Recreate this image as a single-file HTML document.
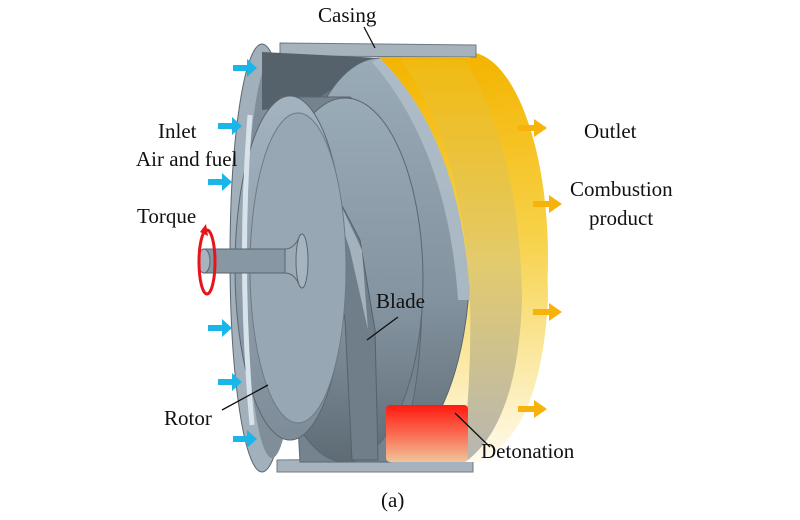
<!DOCTYPE html>
<html><head><meta charset="utf-8"><style>
body{margin:0;background:#fff;}
svg{display:block}
text{font-family:"Liberation Serif",serif;font-size:21px;fill:#111}
</style></head><body>
<svg width="800" height="520" viewBox="0 0 800 520">
<defs>
<linearGradient id="yel" x1="0" y1="0" x2="0" y2="1">
<stop offset="0" stop-color="#f4b400"/><stop offset="0.45" stop-color="#f7d24a"/><stop offset="1" stop-color="#fffbee"/>
</linearGradient>
<linearGradient id="gry" x1="0" y1="0" x2="0" y2="1">
<stop offset="0" stop-color="#9aabb8"/><stop offset="0.6" stop-color="#82929e"/><stop offset="1" stop-color="#5e6b75"/>
</linearGradient>
<linearGradient id="inner" x1="0" y1="0" x2="0" y2="1">
<stop offset="0" stop-color="#a3b3bf"/><stop offset="1" stop-color="#7d8c98"/>
</linearGradient>
<linearGradient id="red" x1="0" y1="0" x2="0" y2="1">
<stop offset="0" stop-color="#ff1a10"/><stop offset="0.5" stop-color="#fb6a50"/><stop offset="1" stop-color="#efc49a"/>
</linearGradient>
<linearGradient id="olive" x1="0" y1="0" x2="0" y2="1">
<stop offset="0" stop-color="#eec020"/><stop offset="0.5" stop-color="#cfc080"/><stop offset="1" stop-color="#6e7278"/>
</linearGradient>
</defs>
<!-- yellow outer band right edge -->
<ellipse cx="468" cy="258" rx="80" ry="206" fill="url(#yel)"/>
<!-- casing strips -->
<polygon points="280,43 476,45 476,57 280,56" fill="#a6b3bd" stroke="#6d7983"/>
<polygon points="277,460 473,458 473,472 277,472" fill="#a6b3bd" stroke="#6d7983"/>
<!-- casing left rim -->
<ellipse cx="262" cy="258" rx="32" ry="214" fill="#a2b0bb" stroke="#5b6670"/>
<ellipse cx="272" cy="258" rx="26" ry="200" fill="#7f8e99"/>
<path d="M262,52 L380,58 L370,100 L262,110 Z" fill="#56626b"/>
<!-- big gray disc -->
<path d="M380,58 L380,460 L300,460 L300,110 Z" fill="#6a7782"/>
<ellipse cx="380" cy="260" rx="90" ry="202" fill="url(#gry)" stroke="#5b6670"/>
<!-- yellow top surface -->
<path d="M378,57 L470,57 Q548,150 548,300 Q540,440 475,462 L462,462 Q472,380 470,300 Q462,140 378,57 Z" fill="url(#yel)"/>
<path d="M400,60 L465,60 Q520,150 522,300 Q518,420 468,460 L462,460 Q472,380 470,300 Q462,140 400,60 Z" fill="url(#olive)" opacity="0.5"/>
<path d="M380,58 Q462,140 470,300 L458,300 Q448,150 372,62Z" fill="#b0bec9" opacity="0.85"/>
<!-- rotor cylinder -->
<path d="M280,97 L350,97 Q420,150 422,300 Q420,420 390,462 L300,462 Z" fill="#75838e" stroke="#5b6670"/>
<ellipse cx="345" cy="280" rx="78" ry="182" fill="url(#gry)" stroke="#5b6670"/>
<!-- blade -->
<polygon points="318,160 360,240 375,330 378,460 352,460 345,320 326,210" fill="#6f7e89" stroke="#55616a"/>
<polygon points="322,165 362,250 368,330 350,250" fill="#a3b2bd"/>
<!-- inner rotor face -->
<ellipse cx="290" cy="268" rx="55" ry="172" fill="url(#inner)" stroke="#5b6670"/>
<ellipse cx="298" cy="268" rx="48" ry="155" fill="#97a7b3" stroke="#6e7b86"/>
<path d="M250,115 Q238,265 252,425" stroke="#d8e2ea" stroke-width="5" fill="none"/>
<!-- shaft -->
<rect x="203" y="249" width="95" height="24" fill="#8797a3" stroke="#5b6670"/>
<ellipse cx="204" cy="261" rx="6" ry="12" fill="#a6b4bf" stroke="#5b6670"/>
<path d="M285,249 Q295,249 300,235 L300,287 Q295,273 285,273Z" fill="#9aaab6" stroke="#5b6670"/>
<ellipse cx="302" cy="261" rx="6" ry="27" fill="#a6b4bf" stroke="#5b6670"/>
<!-- torque -->
<ellipse cx="207" cy="262" rx="8" ry="32" fill="none" stroke="#e8141c" stroke-width="3"/>
<polygon points="200,232 206,224 208,236" fill="#e8141c"/>
<!-- detonation -->
<rect x="386" y="405" width="82" height="57" rx="4" fill="url(#red)"/>
<!-- blue arrows -->
<g fill="#1ab6ea">
<path d="M233,65 h14 v-6 l10,9 -10,9 v-6 h-14z"/>
<path d="M218,123 h14 v-6 l10,9 -10,9 v-6 h-14z"/>
<path d="M208,179 h14 v-6 l10,9 -10,9 v-6 h-14z"/>
<path d="M208,325 h14 v-6 l10,9 -10,9 v-6 h-14z"/>
<path d="M218,379 h14 v-6 l10,9 -10,9 v-6 h-14z"/>
<path d="M233,436 h14 v-6 l10,9 -10,9 v-6 h-14z"/>
</g>
<g fill="#f7b20c">
<path d="M518,125 h16 v-6 l13,9 -13,9 v-6 h-16z"/>
<path d="M533,201 h16 v-6 l13,9 -13,9 v-6 h-16z"/>
<path d="M533,309 h16 v-6 l13,9 -13,9 v-6 h-16z"/>
<path d="M518,406 h16 v-6 l13,9 -13,9 v-6 h-16z"/>
</g>
<!-- leader lines -->
<g stroke="#111" stroke-width="1.3">
<line x1="364" y1="27" x2="375" y2="48"/>
<line x1="398" y1="317" x2="367" y2="340"/>
<line x1="222" y1="410" x2="268" y2="385"/>
<line x1="455" y1="413" x2="490" y2="447"/>
</g>
<text x="318" y="22">Casing</text>
<text x="158" y="138">Inlet</text>
<text x="136" y="166">Air and fuel</text>
<text x="137" y="223">Torque</text>
<text x="376" y="308">Blade</text>
<text x="164" y="425">Rotor</text>
<text x="481" y="458">Detonation</text>
<text x="584" y="138">Outlet</text>
<text x="570" y="196">Combustion</text>
<text x="589" y="225">product</text>
<text x="381" y="507">(a)</text>
</svg>
</body></html>
